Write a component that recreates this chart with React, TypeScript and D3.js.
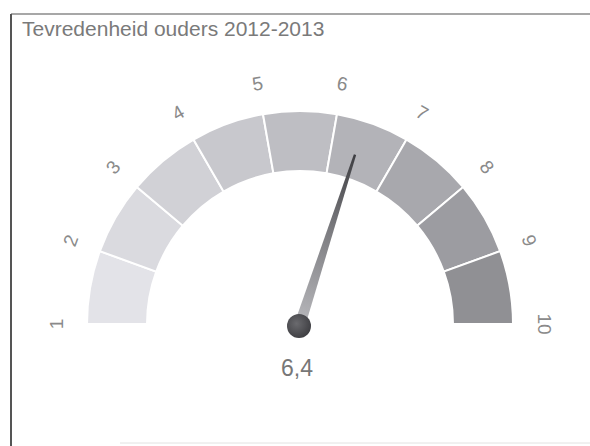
import React from "react";
import * as d3 from "d3";

const title = "Tevredenheid ouders 2012-2013";
const ticks = [1, 2, 3, 4, 5, 6, 7, 8, 9, 10];
const bandStarts = [1, 2, 3, 4, 5, 6, 7, 8, 9];
const bandColors = ["#e3e3e8", "#dadadf", "#d1d1d6", "#c8c8cd", "#bebec3", "#b3b3b8", "#a8a8ad", "#9c9ca1", "#909094"];
const value = 6.4;
const valueLabel = "6,4";

export default function App() {
  const W = 590, H = 446;
  const cx = 300, cy = 324;
  const rOuter = 213, rInner = 153, rLabel = 244;
  const angle = d3.scaleLinear().domain([1, 10]).range([-Math.PI / 2, Math.PI / 2]);
  const arc = d3.arc<any>();

  const a = angle(value);
  const tipR = 178;
  const baseHalf = 5.5, tipHalf = 1.2;
  const ux = Math.sin(a), uy = -Math.cos(a);
  const px = Math.cos(a), py = Math.sin(a);
  const tip = [cx + ux * tipR, cy + uy * tipR];
  const needlePts = [
    [cx + px * baseHalf, cy + py * baseHalf],
    [tip[0] + px * tipHalf, tip[1] + py * tipHalf],
    [tip[0] - px * tipHalf, tip[1] - py * tipHalf],
    [cx - px * baseHalf, cy - py * baseHalf],
  ];

  return (
    <svg width={W} height={H} style={{ position: "absolute", left: 0, top: 0, background: "#fff" }}
      fontFamily="'Liberation Sans', Arial, sans-serif">
      <defs>
        <linearGradient id="ng" gradientUnits="userSpaceOnUse" x1={cx} y1={cy} x2={tip[0]} y2={tip[1]}>
          <stop offset="0" stopColor="#b8b8bc" />
          <stop offset="0.55" stopColor="#7c7c80" />
          <stop offset="1" stopColor="#3e3e42" />
        </linearGradient>
        <radialGradient id="dg" cx="0.4" cy="0.4" r="0.7">
          <stop offset="0" stopColor="#6a6a6e" />
          <stop offset="1" stopColor="#3a3a3e" />
        </radialGradient>
      </defs>
      <line x1={11} y1={14} x2={590} y2={14} stroke="#8a8a8a" strokeWidth={1.5} />
      <line x1={11} y1={14} x2={11} y2={446} stroke="#555" strokeWidth={2} />
      <line x1={120} y1={443} x2={590} y2={443} stroke="#e2e2e2" strokeWidth={1} />
      <text x={22} y={36} fontSize={21} fill="#7a7a7a">{title}</text>
      <g transform={`translate(${cx},${cy})`}>
        {bandStarts.map((s, i) => (
          <path key={s}
            d={arc({ innerRadius: rInner, outerRadius: rOuter, startAngle: angle(s), endAngle: angle(s + 1) }) as string}
            fill={bandColors[i]} stroke="#fff" strokeWidth={2} />
        ))}
        {ticks.map((t) => {
          const ta = angle(t);
          const x = Math.sin(ta) * rLabel, y = -Math.cos(ta) * rLabel;
          return (
            <text key={t} transform={`translate(${x},${y}) rotate(${(ta * 180) / Math.PI})`}
              textAnchor="middle" dominantBaseline="central" fontSize={19} fill="#8a8a8a">{t}</text>
          );
        })}
      </g>
      <polygon points={needlePts.map((p) => p.join(",")).join(" ")} fill="url(#ng)" />
      <circle cx={cx - 1} cy={cy + 2} r={12} fill="url(#dg)" />
      <text x={cx - 3} y={368} textAnchor="middle" dominantBaseline="central" fontSize={23} fill="#777">{valueLabel}</text>
    </svg>
  );
}
